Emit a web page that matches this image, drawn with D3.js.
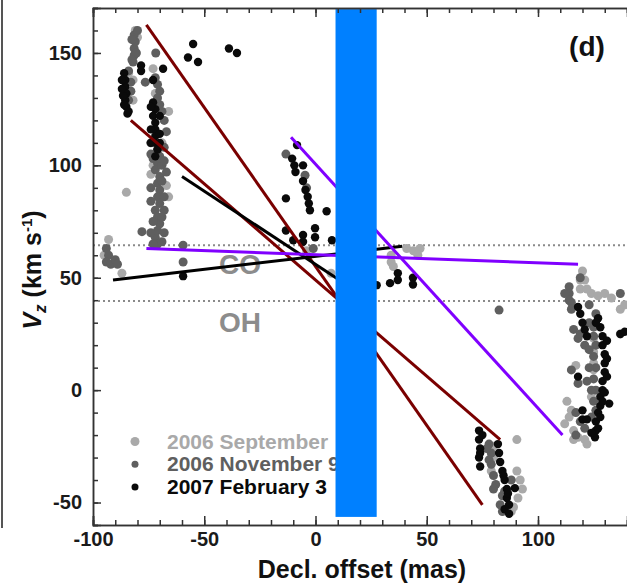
<!DOCTYPE html>
<html><head><meta charset="utf-8">
<script src="https://cdn.jsdelivr.net/npm/d3@7"></script>
<style>body{margin:0;background:#fff}svg{display:block}</style>
</head><body>
<svg id="c" width="627" height="585"></svg>
<script>
// ---- data ----
const xTicks = [-100, -50, 0, 50, 100];
const yTicks = [-50, 0, 50, 100, 150];
const legendLabels = ["2006 September", "2006 November 9", "2007 February 3"];
const refLines = [{label: "CO", v: 64.5}, {label: "OH", v: 39.7}];
const band = {x0: 9, x1: 27.5, y0: -56.4, y1: 169.5};

const sepPoints = [[-81,160],[-80,157],[-84,141],[-82,138],[-73,143],[-66,124],[-83,133],[-82,129],
 [-74,96],[-66,86],[-67,91],[-73,100],[-69,110],[-72,132],[-85,88],[-93,67],[-87,52],[-95,60],
 [7,52],[-4,62],[41,63],[44,62],[47,63],[46,60],[34,60],[34,57],[35,55],
 [90.5,-22],[90.5,-36],[93,-44],[89,-52],[80,-30],[79,-36],[91,-48],[80,-25],[88,-54],[92,-40],
 [120,53],[121,49],[119,45],[124,43],[127,42],[130,43],[133,41],[137,36],[137,25],[125,23],[125,17],
 [125,12],[125,9],[114,-12],[116,-18],[118,-21],[121,-22],[115,-9],[124,-3],[113,-5],[117,11],[139,38],
 [112,-15],[116,-22],[122,-24],[119,49],[122,45]];
const novPoints = [[-81.5,149],[-81.5,152],[-81,155],[-81.5,158],[-82,146],[-84,142],[-76.5,137],[-71.8,150],
 [-80,160],[-82.5,156],[-80.5,150],[-82.5,147],
 [-72,139],[-71,136],[-70,133],[-71,130],[-70,127],[-69,124],[-83,137],[-83,133],[-84,129],
 [-71,107],[-70,104],[-71,101],[-72,98],[-70,95],[-71,92],[-70,89],[-71,86],[-70,83],[-72,80],[-71,77],
 [-70,74],[-71,71],[-72,68],[-71,65],[-69,100],[-73,103],[-69,93],[-68,80],[-78,70.5],
 [-74,105],[-68,102],[-74,90],[-67,97],[-74,84],[-68,86],[-73,75],[-69,77],[-74,70],[-68,70],[-73,65],
 [-69,66],[-68,108],[-74,110],[-67,115],[-68,120],
 [-94,63],[-93,60],[-94,57],[-92,56],[-90,58],[-89,56],[-59.5,64.5],[-59.5,57],
 [-13.3,105],[-4.7,95.6],[-1,63],[-4,90],
 [78,-24],[79,-28],[79,-33],[80,-38],[81,-42],[84,-47],[83,-51],[88,-40],[82.5,35.6],
 [77,-26],[78,-31],[80,-44],[84,-54],[85,-45],
 [114,46],[114,43],[115,39],[115,36],[119,50],[137,43],[116,27],[118,23],[121,20],[119,25],[125,28],
 [125,24],[126,20],[125,15],[126,10],[125,5],[126,0],[125,-5],[126,-9],[115,9],[118,3],[117,-10],
 [119,-14],[121,-17],[126,34],[123,38],
 [123,30],[123,18],[123,10],[122,4],[124,-12],[117,-20],[114,40],[112,43],[124,0]];
const febPoints = [[-78.4,144.4],[-78.4,142],[-86,141],[-85.5,138],[-85.5,135],[-85,132],[-85.5,129],[-85,126],
 [-84.5,123],[-68.5,143],[-73,138],[-87,138],[-86.5,131],[-86,127],[-84,124],[-87,134],
 [-73,128],[-72,125],[-73,122],[-72,119],[-72,116],[-72,113],[-72,110],
 [-71,107],[-72,104],[-74,126],[-70,122],[-74,116],[-70,114],[-74,110],[-70,110],
 [-55,154],[-57.3,148],[-52.8,146],[-38.9,152],[-35.3,150],[-59.5,50.7],
 [-8.3,109],[-10.5,103],[-9.5,100],[-9,97],[-5.6,100],[-5.6,93],[-4.5,89],[-3.5,86],[-3,83],[-2.5,80],
 [-13.3,85.3],[5,79.6],[-13.3,71],[-5.6,69],[-5.6,66],[-0.2,72],[-0.2,68],[7.4,66.7],[-10,66.7],
 [33.5,47.6],[37,52],[37,49],[43.8,50],[43.8,47],[27.5,46.7],
 [73.5,-18],[73.5,-22],[74,-26],[73.5,-30],[74,-34],[82,-24],[82.5,-28],[83,-32],[84,-36],[85,-40],
 [86,-44],[86,-48],[87,-51],[89.6,-43.6],[85,-53],[87,-55],[84.5,-38],[86.5,-46],[75,-20],[74,-28],
 [118,37],[119,34],[120,30],[121,27],[122,24],[127,32],[128,28],[129,24],[129,20],[130,16],[130,12],
 [130,8],[129,4],[129,0],[128,-3],[128,-7],[127,-10],[126,-14],[126,-18],[125.6,-21],[132,-6],[118,6],
 [120,-9],[120,-13],[137,25],[139,26],
 [126,30],[131,22],[131,14],[131,6],[130,-1],[129,-5],[128,-12],[127,-17],[122,-13],[124,-19]];

const fitLines = [
  {c: "#7a0000", p: [[-76,162.5],[75,-51]]},
  {c: "#7a0000", p: [[-83,120],[83,-22]]},
  {c: "#000000", p: [[-60,95],[23,41]]},
  {c: "#000000", p: [[-91,49],[39,64]]},
  {c: "#8000ff", p: [[-76,63],[118,56]]},
  {c: "#8000ff", p: [[-11,112.5],[111,-20]]}
];

const series = [
  {pts: sepPoints, color: "#a9a9a9", r: 4.5},
  {pts: novPoints, color: "#5f5f5f", r: 4.5},
  {pts: febPoints, color: "#0a0a0a", r: 4.2}
];

// ---- chart ----
const svg = d3.select("#c");
const L = 93, R = 627, T = 8, B = 525;
const x = d3.scaleLinear().domain([-100, 140]).range([L, R]);
const y = d3.scaleLinear().domain([-60, 170]).range([B, T]);
const font = "'Liberation Sans', Arial, sans-serif";
const fmt = d => String(d);

// left neighbour panel edge
svg.append("line").attr("x1", 2).attr("x2", 2).attr("y1", 0).attr("y2", 528)
  .attr("stroke", "#555").attr("stroke-width", 2);

// reference dotted lines
refLines.forEach(r => {
  svg.append("line").attr("x1", L).attr("x2", R).attr("y1", y(r.v)).attr("y2", y(r.v))
    .attr("stroke", "#8a8a8a").attr("stroke-width", 2).attr("stroke-dasharray", "2,3");
});
svg.append("text").attr("x", 240).attr("y", 274).attr("text-anchor", "middle")
  .attr("font-family", font).attr("font-weight", "bold").attr("font-size", 28)
  .attr("fill", "#8c8c8c").text(refLines[0].label);
svg.append("text").attr("x", 240).attr("y", 332).attr("text-anchor", "middle")
  .attr("font-family", font).attr("font-weight", "bold").attr("font-size", 28)
  .attr("fill", "#8c8c8c").text(refLines[1].label);

// points
series.forEach(s => {
  svg.append("g").selectAll("circle").data(s.pts).join("circle")
    .attr("cx", d => x(d[0])).attr("cy", d => y(d[1])).attr("r", s.r)
    .attr("fill", s.color);
});

// legend
legendLabels.forEach((lab, i) => {
  const yy = 441.5 + i * 22.8;
  svg.append("circle").attr("cx", 135).attr("cy", yy).attr("r", i === 0 ? 4.5 : 3.5)
    .attr("fill", series[i].color);
  svg.append("text").attr("x", 167).attr("y", yy + 7).attr("font-family", font)
    .attr("font-weight", "bold").attr("font-size", 21).attr("fill", series[i].color).text(lab);
});

// fit lines
const line = d3.line().x(d => x(d[0])).y(d => y(d[1]));
fitLines.forEach(f => {
  svg.append("path").attr("d", line(f.p)).attr("stroke", f.c).attr("stroke-width", 3)
    .attr("fill", "none");
});

// band
svg.append("rect").attr("x", x(band.x0)).attr("width", x(band.x1) - x(band.x0))
  .attr("y", y(band.y1)).attr("height", y(band.y0) - y(band.y1)).attr("fill", "#0080ff");

// axes
const minorX = d3.range(-100, 141, 10);
const minorY = d3.range(-60, 171, 10);
function styleAxis(g) {
  g.select(".domain").attr("stroke", "#333").attr("stroke-width", 1.5);
  g.selectAll(".tick line").attr("stroke", "#333").attr("stroke-width", 1.5);
  g.selectAll("text").attr("font-family", font).attr("font-weight", "bold")
    .attr("font-size", 20).attr("fill", "#1a1a1a");
}
svg.append("g").attr("transform", `translate(0,${B})`)
  .call(d3.axisBottom(x).tickValues(minorX).tickSize(-5).tickFormat(""))
  .call(styleAxis);
svg.append("g").attr("transform", `translate(0,${B})`)
  .call(d3.axisBottom(x).tickValues(xTicks).tickSize(-9).tickPadding(7).tickFormat(fmt))
  .call(styleAxis);
svg.append("g").attr("transform", `translate(0,${T})`)
  .call(d3.axisTop(x).tickValues(minorX).tickSize(-5).tickFormat(""))
  .call(styleAxis);
svg.append("g").attr("transform", `translate(0,${T})`)
  .call(d3.axisTop(x).tickValues(xTicks).tickSize(-9).tickFormat(""))
  .call(styleAxis);
svg.append("g").attr("transform", `translate(${L},0)`)
  .call(d3.axisLeft(y).tickValues(minorY).tickSize(-5).tickFormat(""))
  .call(styleAxis);
svg.append("g").attr("transform", `translate(${L},0)`)
  .call(d3.axisLeft(y).tickValues(yTicks).tickSize(-8).tickPadding(11).tickFormat(fmt))
  .call(styleAxis);

// labels
svg.append("text").attr("x", 587).attr("y", 56).attr("text-anchor", "middle")
  .attr("font-family", font).attr("font-weight", "bold").attr("font-size", 28)
  .attr("fill", "#111").text("(d)");
svg.append("text").attr("x", 362).attr("y", 578).attr("text-anchor", "middle")
  .attr("font-family", font).attr("font-weight", "bold").attr("font-size", 25)
  .attr("fill", "#111").text("Decl. offset (mas)");
const yt = svg.append("text").attr("transform", "translate(41,270) rotate(-90)")
  .attr("text-anchor", "middle").attr("font-family", font).attr("font-weight", "bold")
  .attr("font-size", 25).attr("fill", "#111");
yt.append("tspan").attr("font-style", "italic").text("V");
yt.append("tspan").attr("font-style", "italic").attr("font-size", 17).attr("dy", 5).text("z");
yt.append("tspan").attr("dy", -5).text(" (km s");
yt.append("tspan").attr("font-size", 15).attr("dy", -9).text("-1");
yt.append("tspan").attr("dy", 9).text(")");
</script>
</body></html>
